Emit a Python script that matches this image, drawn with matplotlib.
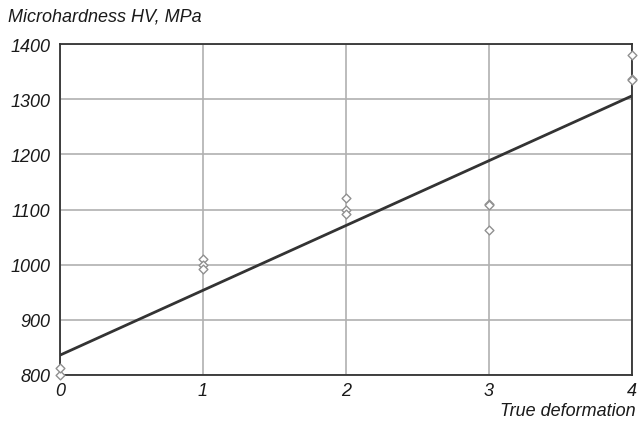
import numpy as np
import matplotlib
matplotlib.use("Agg")
import matplotlib.pyplot as plt

# measured points (true deformation, microhardness MPa)
deform = [0, 0, 1, 1, 1, 2, 2, 2, 3, 3, 3, 4, 4, 4]
hv = [800, 812, 1010, 1000, 993, 1120, 1100, 1092, 1110, 1108, 1063, 1380, 1337, 1334]

# linear fit line
fit_x = [0, 4]
fit_y = [836, 1306]

xticks = [0, 1, 2, 3, 4]
yticks = [800, 900, 1000, 1100, 1200, 1300, 1400]

plt.rcParams['font.family'] = ['Liberation Sans', 'DejaVu Sans']
fs = 13

fig = plt.figure(figsize=(6.44, 4.27), dpi=100)
ax = fig.add_axes([60/644, 51/427, 572/644, 331/427])

ax.plot(fit_x, fit_y, color='#333333', lw=2, zorder=3)
ax.scatter(deform, hv, marker='D', s=20, facecolors='white', edgecolors='#909090',
           linewidths=1.0, zorder=4, clip_on=False)

ax.set_xlim(0, 4)
ax.set_ylim(800, 1400)
ax.set_xticks(xticks)
ax.set_yticks(yticks)
ax.set_xticklabels([str(t) for t in xticks], style='italic', fontsize=fs, color='#1a1a1a')
ax.set_yticklabels([str(t) for t in yticks], style='italic', fontsize=fs, color='#1a1a1a')
ax.tick_params(axis='y', length=0, pad=7)
ax.tick_params(axis='x', length=0, pad=5)
ax.grid(True, color='#b0b0b0', lw=1.2)
ax.set_axisbelow(True)
for s in ax.spines.values():
    s.set_color('#333333')
    s.set_linewidth(1.3)

fig.text(8/644, 1 - 17/427, 'Microhardness HV, MPa', style='italic', fontsize=fs,
         color='#1a1a1a', va='center', ha='left')
fig.text(636/644, 1 - 412/427, 'True deformation', style='italic', fontsize=fs,
         color='#1a1a1a', va='center', ha='right')

fig.savefig('out.png', dpi=100)
